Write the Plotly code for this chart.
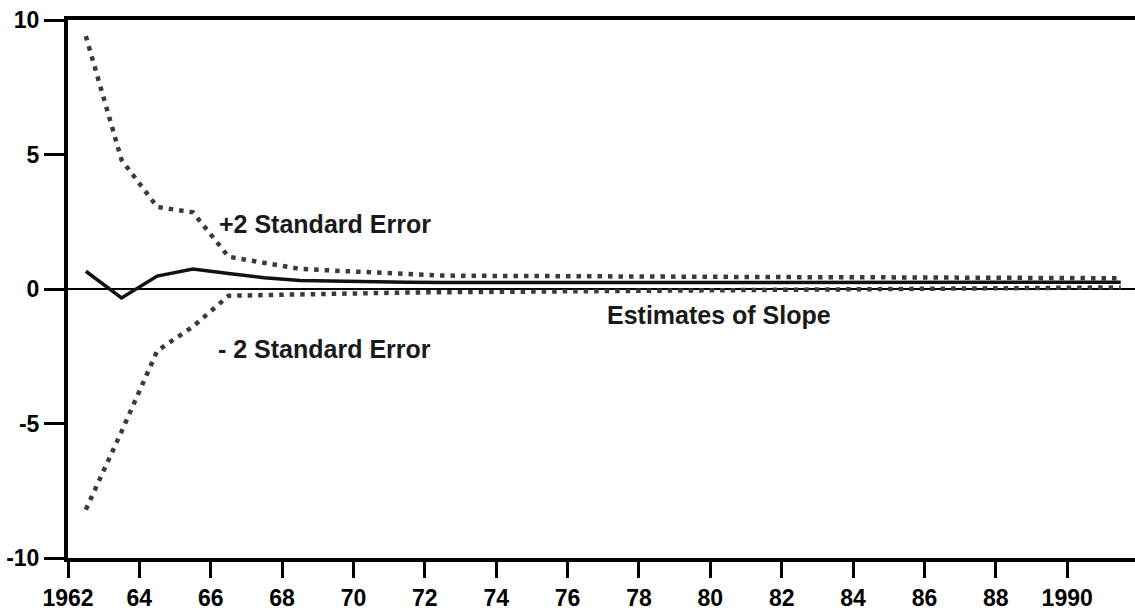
import plotly.graph_objects as go

# Recursive slope estimates with a +/- 2 standard error band (annual, mid-year)
years = [1962.5, 1963.5, 1964.5, 1965.5, 1966.5, 1967.5, 1968.5, 1969.5, 1970.5, 1971.5,
         1972.5, 1973.5, 1974.5, 1975.5, 1976.5, 1977.5, 1978.5, 1979.5, 1980.5, 1981.5,
         1982.5, 1983.5, 1984.5, 1985.5, 1986.5, 1987.5, 1988.5, 1989.5, 1990.5, 1991.5]

slope = [0.66, -0.33, 0.48, 0.74, 0.58, 0.42, 0.32, 0.29, 0.27, 0.25,
         0.24, 0.24, 0.24, 0.24, 0.24, 0.24, 0.24, 0.24, 0.24, 0.25,
         0.25, 0.25, 0.26, 0.26, 0.26, 0.26, 0.26, 0.25, 0.25, 0.25]

upper = [9.4, 4.8, 3.05, 2.85, 1.2, 0.96, 0.75, 0.68, 0.62, 0.53,
         0.5, 0.49, 0.48, 0.47, 0.47, 0.46, 0.46, 0.45, 0.45, 0.45,
         0.44, 0.44, 0.44, 0.43, 0.43, 0.43, 0.42, 0.42, 0.41, 0.4]

lower = [-8.2, -5.3, -2.3, -1.4, -0.25, -0.22, -0.19, -0.17, -0.15, -0.13,
         -0.12, -0.11, -0.1, -0.09, -0.08, -0.07, -0.06, -0.05, -0.05, -0.04,
         -0.03, -0.02, -0.01, 0.0, 0.01, 0.02, 0.03, 0.04, 0.05, 0.06]

x_ticks = [1962, 1964, 1966, 1968, 1970, 1972, 1974, 1976, 1978, 1980,
           1982, 1984, 1986, 1988, 1990]
x_tick_labels = ["1962", "64", "66", "68", "70", "72", "74", "76", "78", "80",
                 "82", "84", "86", "88", "1990"]
y_ticks = [-10, -5, 0, 5, 10]
y_tick_labels = ["-10", "-5", "0", "5", "10"]

FONT = "Liberation Sans, Arial, sans-serif"
band = dict(color="#3a3a3a", width=4.5, dash="4.5px,6px")

fig = go.Figure()
fig.add_trace(go.Scatter(x=years, y=upper, mode="lines", line=band, hoverinfo="skip"))
fig.add_trace(go.Scatter(x=years, y=lower, mode="lines", line=band, hoverinfo="skip"))
fig.add_trace(go.Scatter(x=years, y=slope, mode="lines",
                         line=dict(color="#111111", width=3.5)))

label_font = dict(family=FONT, size=25, color="#1a1a1a", weight="bold")
fig.add_annotation(x=1969.19, y=2.4, text="+2 Standard Error", showarrow=False,
                   xanchor="center", yanchor="middle", font=label_font)
fig.add_annotation(x=1969.19, y=-2.22, text="- 2 Standard Error", showarrow=False,
                   xanchor="center", yanchor="middle", font=label_font)
fig.add_annotation(x=1980.25, y=-0.98, text="Estimates of Slope", showarrow=False,
                   xanchor="center", yanchor="middle", font=label_font)

tick_font = dict(family=FONT, size=23, color="#000000", weight="bold")

fig.update_layout(
    width=1135, height=611,
    margin=dict(l=68, r=0, t=20, b=48),
    paper_bgcolor="white", plot_bgcolor="white",
    showlegend=False,
    xaxis=dict(range=[1962, 1991.9], tickvals=x_ticks, ticktext=x_tick_labels,
               showgrid=False, zeroline=False, showline=True, linecolor="#000",
               linewidth=4, mirror=True, ticks="outside", ticklen=16, tickwidth=3,
               tickcolor="#000", tickfont=tick_font),
    yaxis=dict(range=[-10, 10], tickvals=y_ticks, ticktext=y_tick_labels,
               showgrid=False, zeroline=True, zerolinecolor="#000", zerolinewidth=1.5,
               showline=True, linecolor="#000", linewidth=4, ticks="outside",
               ticklen=20, tickwidth=2.5, tickcolor="#000", tickfont=tick_font),
)

fig.write_html("out.html")
